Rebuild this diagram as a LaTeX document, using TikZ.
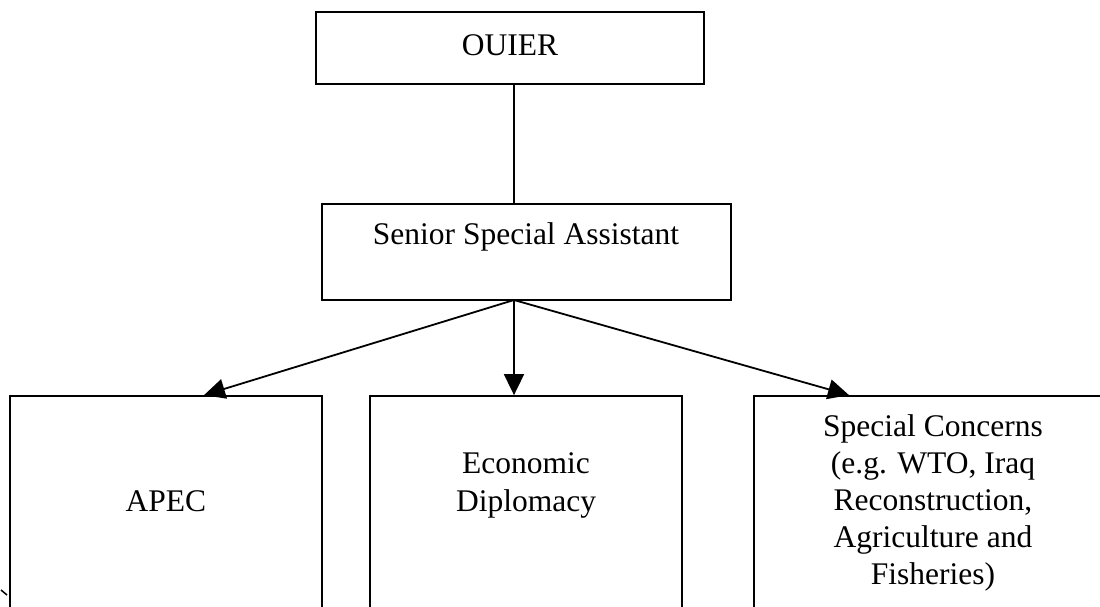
\documentclass[tikz,border=0pt]{standalone}
\usepackage{fontspec}
\setmainfont{Liberation Serif}
\usetikzlibrary{arrows.meta}
\tikzset{
  box/.style={draw, line width=1.8pt, rectangle, inner sep=0pt},
  lbl/.style={inner sep=0pt, anchor=base, align=center, font=\fontsize{31.5}{37.5}\selectfont},
  link/.style={line width=1.8pt},
  arr/.style={line width=1.8pt, -{Triangle[length=21pt,width=20pt]}}
}
\begin{document}
\begin{tikzpicture}[x=1pt,y=-1pt]
\useasboundingbox (0,0) rectangle (1100,606);
\clip (0,0) rectangle (1100,606);
\fill[white] (0,0) rectangle (1100,606);
% boxes
\node[box, minimum width=388pt, minimum height=72pt] (ouier) at (510,48) {};
\node[box, minimum width=409pt, minimum height=96pt] (ssa) at (526.5,252) {};
\node[box, minimum width=312pt, minimum height=224pt] (apec) at (166,508) {};
\node[box, minimum width=312pt, minimum height=224pt] (econ) at (526,508) {};
\node[box, minimum width=358pt, minimum height=224pt] (spec) at (933,508) {};
% texts (base anchor = baseline of last line)
\node[lbl] (touier) at (510,55) {OUIER};
\node[lbl] (tssa) at (526,244) {Senior Special Assistant};
\node[lbl] (tapec) at (166,511) {APEC};
\node[lbl] (tecon) at (526,511) {Economic\\Diplomacy};
\node[lbl, font=\fontsize{31.5}{37}\selectfont] (tspec) at (933,584) {Special Concerns\\(e.g. WTO, Iraq\\Reconstruction,\\Agriculture and\\Fisheries)};
% connectors
\coordinate (hub) at (514,300);
\coordinate (tipA) at (204,396);
\coordinate (tipB) at (514,396);
\coordinate (tipC) at (849,396);
\draw[link] (ouier.south -| hub) -- (ssa.north -| hub);
\draw[arr] (hub) -- (apec.north -| tipA);
\draw[arr] (hub) -- (econ.north -| tipB);
\draw[arr] (hub) -- (spec.north -| tipC);
% stray mark
\draw[line width=1.5pt] (1,590) -- (7,595);
\end{tikzpicture}
\end{document}
